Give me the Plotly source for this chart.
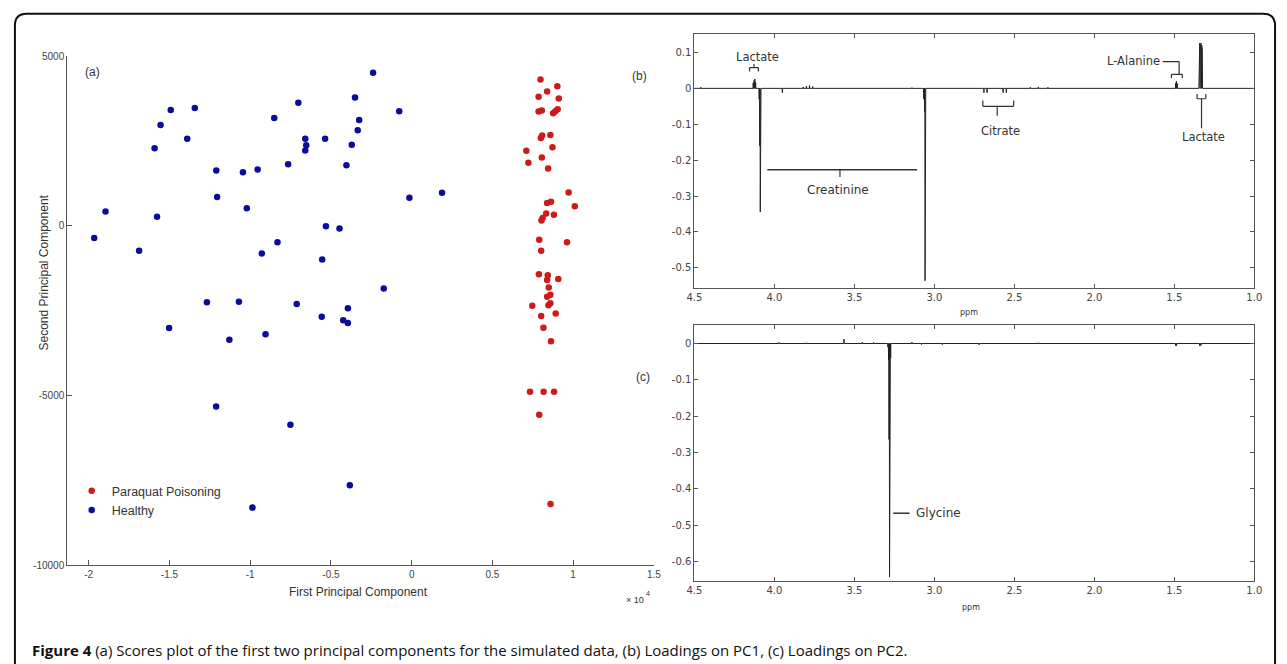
import plotly.graph_objects as go

W, H = 1287, 664

# ---------------- data: panel (a) scores (PC1 in units of 1e4) ----------------
healthy_pc1 = [-1.966, -1.896, -1.688, -1.592, -1.577, -1.555, -1.492, -1.502, -1.390, -1.343,
               -1.268, -1.210, -1.205, -1.070, -1.045, -1.021, -0.954, -0.928, -0.851, -0.831,
               -0.765, -0.712, -0.702, -0.659, -0.653, -0.659, -0.536, -0.531, -0.554, -0.557,
               -1.129, -0.905, -1.211, -0.751, -0.986, -0.239, -0.351, -0.077, -0.325, -0.334,
               -0.371, -0.404, -0.014, 0.188, -0.447, -0.173, -0.395, -0.424, -0.395, -0.383]
healthy_pc2 = [-362, 420, -739, 2285, 266, 2971, 3415, -3010, 2566, 3473,
               -2256, 1629, 846, -2237, 1580, 517, 1658, -817, 3174, -488,
               1812, -2305, 3629, 2566, 2372, 2218, 2566, -14, -991, -2682,
               -3357, -3194, -5329, -5861, -8306, 4508, 3783, 3377, 3116, 2818,
               2392, 1783, 826, 971, -81, -1850, -2430, -2788, -2865, -7648]
paraquat_pc1 = [0.798, 0.902, 0.839, 0.786, 0.911, 0.786, 0.806, 0.876, 0.890, 0.904,
                0.800, 0.808, 0.859, 0.710, 0.872, 0.723, 0.806, 0.845, 0.972, 1.010,
                0.839, 0.863, 0.833, 0.881, 0.811, 0.804, 0.790, 0.962, 0.802, 0.788,
                0.843, 0.839, 0.908, 0.849, 0.839, 0.859, 0.747, 0.847, 0.859, 0.802,
                0.892, 0.816, 0.863, 0.733, 0.817, 0.882, 0.790, 0.860]
paraquat_pc2 = [4314, 4111, 3957, 3803, 3754, 3368, 3397, 3319, 3377, 3435,
                2586, 2661, 2673, 2209, 2313, 1861, 2015, 1687, 980, 574,
                672, 710, 362, 325, 226, 159, -412, -488, -739, -1426,
                -1455, -1600, -1571, -1821, -2093, -2035, -2354, -2343, -2285, -2662,
                -2586, -3009, -3406, -4894, -4894, -4894, -5571, -8198]

a_xticks = [-2, -1.5, -1, -0.5, 0, 0.5, 1, 1.5]
a_xticktext = ["-2", "-1.5", "-1", "-0.5", "0", "0.5", "1", "1.5"]
a_yticks = [5000, 0, -5000, -10000]
a_yticktext = ["5000", "0", "-5000", "-10000"]

# ---------------- data: panel (b) loadings on PC1 (peak list) ----------------
b_ppm = [4.46, 4.132, 4.127, 4.122, 4.117, 4.095, 4.091, 4.088, 4.085, 3.95,
         3.82, 3.80, 3.78, 3.76, 3.14, 3.066, 3.061, 3.058, 3.055,
         2.69, 2.67, 2.57, 2.55, 2.40, 2.35, 2.29,
         1.492, 1.487, 1.482, 1.345, 1.341, 1.337, 1.333, 1.329, 1.325]
b_int = [0.003, 0.015, 0.022, 0.026, 0.017, -0.03, -0.16, -0.344, -0.16, -0.012,
         0.004, 0.006, 0.008, 0.005, 0.002, -0.03, -0.065, -0.536, -0.06,
         -0.012, -0.012, -0.012, -0.012, 0.003, 0.004, 0.003,
         0.014, 0.02, 0.014, 0.12, 0.126, 0.118, 0.126, 0.12, 0.11]

# ---------------- data: panel (c) loadings on PC2 (peak list) ----------------
c_ppm = [4.11, 3.97, 3.80, 3.565, 3.45, 3.38, 3.29, 3.286, 3.283, 3.280, 3.277, 3.273,
         3.14, 3.08, 2.95, 2.72, 2.35, 1.492, 1.486, 1.342, 1.334]
c_int = [0.002, 0.003, 0.002, 0.012, 0.004, 0.003, -0.01, -0.045, -0.264, -0.642, -0.26, -0.04,
         0.004, -0.003, -0.003, -0.004, 0.002, -0.006, -0.006, -0.006, -0.006]

ppm_ticks = [4.5, 4.0, 3.5, 3.0, 2.5, 2.0, 1.5, 1.0]
b_yticks = [0.1, 0, -0.1, -0.2, -0.3, -0.4, -0.5]
b_yticktext = ["0.1", "0", "-0.1", "-0.2", "-0.3", "-0.4", "-0.5"]
c_yticks = [0, -0.1, -0.2, -0.3, -0.4, -0.5, -0.6]
c_yticktext = ["0", "-0.1", "-0.2", "-0.3", "-0.4", "-0.5", "-0.6"]


def stick_spectrum(ppm, inten, w=0.0015, lo=1.0, hi=4.5):
    xs, ys = [hi], [0.0]
    for p, h in sorted(zip(ppm, inten), reverse=True):
        xs += [p + w, p, p - w]
        ys += [0.0, h, 0.0]
    xs.append(lo)
    ys.append(0.0)
    return xs, ys


def px(x):
    return x / W


def py(y):
    return 1 - y / H


fig = go.Figure()

# panel (a)
fig.add_trace(go.Scatter(x=paraquat_pc1, y=paraquat_pc2, mode="markers", name="Paraquat Poisoning",
                         marker=dict(color="#cf1a1a", size=6.5), xaxis="x", yaxis="y"))
fig.add_trace(go.Scatter(x=healthy_pc1, y=healthy_pc2, mode="markers", name="Healthy",
                         marker=dict(color="#0c0c9c", size=6.5), xaxis="x", yaxis="y"))

# panel (b)
bx, by = stick_spectrum(b_ppm, b_int)
fig.add_trace(go.Scatter(x=bx, y=by, mode="lines", line=dict(color="#222222", width=1),
                         showlegend=False, xaxis="x2", yaxis="y2"))
# panel (c)
cx, cy = stick_spectrum(c_ppm, c_int)
fig.add_trace(go.Scatter(x=cx, y=cy, mode="lines", line=dict(color="#222222", width=1),
                         showlegend=False, xaxis="x3", yaxis="y3"))

tickfont_a = dict(family="Liberation Sans, Arial", size=10, color="#444")
tickfont_b = dict(family="DejaVu Sans", size=10, color="#444")

fig.update_layout(
    width=W, height=H, margin=dict(l=0, r=0, t=0, b=0),
    paper_bgcolor="white", plot_bgcolor="white",
    xaxis=dict(domain=[px(60), px(654)], range=[-2.133, 1.5], tickvals=a_xticks, ticktext=a_xticktext,
               ticks="inside", ticklen=5, tickcolor="#555", showline=True, linecolor="#555",
               showgrid=False, zeroline=False, tickfont=tickfont_a, anchor="y"),
    yaxis=dict(domain=[py(569.5), py(52)], range=[-10000, 5000], tickvals=a_yticks, ticktext=a_yticktext,
               ticks="inside", ticklen=5, tickcolor="#555", showline=True, linecolor="#555",
               showgrid=False, zeroline=False, tickfont=tickfont_a, anchor="x"),
    xaxis2=dict(domain=[px(695), px(1262)], range=[4.5, 1.0], tickvals=ppm_ticks, tickformat=".1f",
                ticks="inside", ticklen=4, tickcolor="#555", showline=True, linecolor="#555", mirror="ticks",
                showgrid=False, zeroline=False, tickfont=tickfont_b, anchor="y2"),
    yaxis2=dict(domain=[py(287.3), py(29.3)], range=[-0.555, 0.152], tickvals=b_yticks, ticktext=b_yticktext,
                ticks="inside", ticklen=4, tickcolor="#555", showline=True, linecolor="#555", mirror="ticks",
                showgrid=False, zeroline=False, tickfont=tickfont_b, anchor="x2"),
    xaxis3=dict(domain=[px(695), px(1262)], range=[4.5, 1.0], tickvals=ppm_ticks, tickformat=".1f",
                ticks="inside", ticklen=4, tickcolor="#555", showline=True, linecolor="#555", mirror="ticks",
                showgrid=False, zeroline=False, tickfont=tickfont_b, anchor="y3"),
    yaxis3=dict(domain=[py(585.7), py(325.7)], range=[-0.653, 0.05], tickvals=c_yticks, ticktext=c_yticktext,
                ticks="inside", ticklen=4, tickcolor="#555", showline=True, linecolor="#555", mirror="ticks",
                showgrid=False, zeroline=False, tickfont=tickfont_b, anchor="x3"),
    legend=dict(x=px(64.5), y=py(479), xanchor="left", yanchor="top", bgcolor="rgba(0,0,0,0)",
                font=dict(family="Liberation Sans, Arial", size=12.5, color="#333"), itemwidth=30,
                tracegroupgap=0),
    showlegend=True,
)

ann = []
def paper_text(x, y, text, size=12, family="Liberation Sans, Arial", color="#333", xanchor="center",
               textangle=0):
    ann.append(dict(x=px(x), y=py(y), xref="paper", yref="paper", text=text, showarrow=False,
                    xanchor=xanchor, yanchor="middle", textangle=textangle,
                    font=dict(family=family, size=size, color=color)))

paper_text(86, 68, "(a)", size=12)
paper_text(355, 597, "First Principal Component", size=12)
paper_text(36.5, 272, "Second Principal Component", size=12, textangle=-90)
paper_text(635, 605, "× 10", size=9)
paper_text(648, 598, "4", size=7)
paper_text(639, 72, "(b)", size=12)
paper_text(643, 378, "(c)", size=12)
paper_text(973, 313, "ppm", size=8, family="DejaVu Sans")
paper_text(975, 613, "ppm", size=8, family="DejaVu Sans")
paper_text(22, 656, "<b>Figure 4</b> (a) Scores plot of the first two principal components for the simulated data, "
                     "(b) Loadings on PC1, (c) Loadings on PC2.", size=15, family="Open Sans", color="#111",
           xanchor="left")

def data_text(x, y, text, xr, yr, xanchor="center", size=11.5):
    ann.append(dict(x=x, y=y, xref=xr, yref=yr, text=text, showarrow=False, xanchor=xanchor,
                    yanchor="middle", font=dict(family="DejaVu Sans", size=size, color="#333")))

data_text(4.106, 0.088, "Lactate", "x2", "y2")
data_text(3.60, -0.282, "Creatinine", "x2", "y2", size=12)
data_text(2.584, -0.119, "Citrate", "x2", "y2")
data_text(1.758, 0.075, "L-Alanine", "x2", "y2")
data_text(1.316, -0.135, "Lactate", "x2", "y2")
data_text(3.13, -0.467, "Glycine", "x3", "y3", xanchor="left", size=12)

shapes = []
def seg(x0, y0, x1, y1, xr, yr, w=1.2):
    shapes.append(dict(type="line", x0=x0, y0=y0, x1=x1, y1=y1, xref=xr, yref=yr,
                       line=dict(color="#333", width=w)))

# Lactate (4.1) bracket
seg(4.155, 0.058, 4.100, 0.058, "x2", "y2")
seg(4.155, 0.058, 4.155, 0.047, "x2", "y2")
seg(4.100, 0.058, 4.100, 0.047, "x2", "y2")
seg(4.127, 0.058, 4.127, 0.068, "x2", "y2")
# Creatinine
seg(4.044, -0.227, 3.108, -0.227, "x2", "y2", w=1.5)
seg(3.59, -0.227, 3.59, -0.247, "x2", "y2")
# Citrate
seg(2.697, -0.050, 2.504, -0.050, "x2", "y2")
seg(2.697, -0.050, 2.697, -0.034, "x2", "y2")
seg(2.504, -0.050, 2.504, -0.034, "x2", "y2")
seg(2.607, -0.050, 2.607, -0.076, "x2", "y2")
# L-Alanine
seg(1.573, 0.0745, 1.470, 0.0745, "x2", "y2")
seg(1.470, 0.0745, 1.470, 0.039, "x2", "y2")
seg(1.518, 0.039, 1.450, 0.039, "x2", "y2")
seg(1.518, 0.039, 1.518, 0.028, "x2", "y2")
seg(1.450, 0.039, 1.450, 0.028, "x2", "y2")
# Lactate (1.33)
seg(1.358, -0.029, 1.303, -0.029, "x2", "y2")
seg(1.358, -0.029, 1.358, -0.016, "x2", "y2")
seg(1.303, -0.029, 1.303, -0.016, "x2", "y2")
seg(1.330, -0.029, 1.330, -0.111, "x2", "y2")
# Glycine
seg(3.257, -0.4666, 3.155, -0.4666, "x3", "y3", w=1.5)

# outer rounded frame (open at bottom)
def P(x, y):
    return f"{px(x):.5f},{py(y):.5f}"
frame = (f"M {P(7, 670)} L {P(7, 21)} Q {P(7, 9)} {P(19, 9)} L {P(1271, 9)} "
         f"Q {P(1283, 9)} {P(1283, 21)} L {P(1283, 670)}")
shapes.append(dict(type="path", path=frame, xref="paper", yref="paper",
                   line=dict(color="#111", width=2)))

fig.update_layout(annotations=ann, shapes=shapes)
fig.write_html("out.html")
